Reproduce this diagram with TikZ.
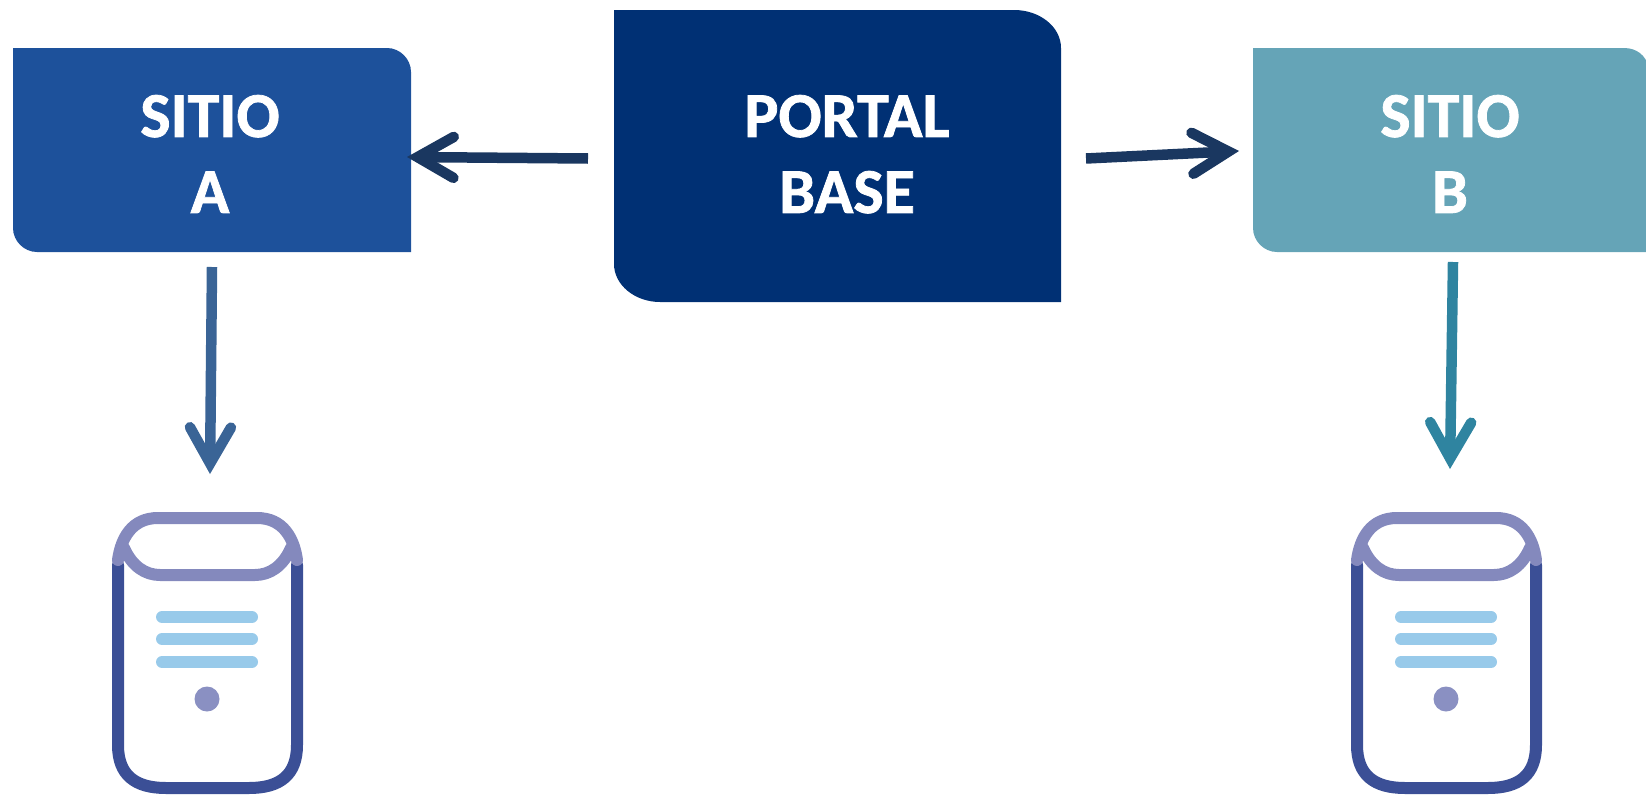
\documentclass[tikz,border=0pt]{standalone}
\usepackage{fontspec}
\setmainfont{Carlito}[BoldFeatures={FakeBold=1.2}]
\usetikzlibrary{arrows.meta}
\definecolor{sitioA}{HTML}{1D519B}
\definecolor{portalC}{HTML}{003074}
\definecolor{sitioB}{HTML}{65A4B7}
\definecolor{arrowDark}{HTML}{1A3760}
\definecolor{arrowA}{HTML}{3A6496}
\definecolor{arrowB}{HTML}{2F84A0}
\definecolor{srvBody}{HTML}{3B4F96}
\definecolor{srvTop}{HTML}{8489BD}
\definecolor{srvLine}{HTML}{98CAEA}
\definecolor{srvDot}{HTML}{8A90C2}
\tikzset{
  x=1pt,y=-1pt,
  boxlabel/.style={text=white,font=\fontsize{64}{76}\selectfont\bfseries,align=center,inner sep=0pt,text depth=0pt},
  conn/.style={line width=10.5pt,-{Straight Barb[length=36pt,width=41pt,line width=10.5pt,line cap=round,line join=miter]}},
  srvbodyline/.style={draw=srvBody,line width=12pt,line cap=round,line join=round},
  srvtopline/.style={draw=srvTop,line width=12pt,line cap=round,line join=round},
  srvtext/.style={draw=srvLine,line width=12pt,line cap=round},
  server/.pic={
    \draw[srvbodyline] (118,565) -- (118,745) .. controls (118,775) and (135,788) .. (166,788)
      -- (249,788) .. controls (280,788) and (297,775) .. (297,745) -- (297,565);
    \draw[srvtopline] (118,560) .. controls (121,538) and (132,518) .. (158,518) -- (257,518)
      .. controls (283,518) and (294,538) .. (297,560);
    \draw[srvtopline] (124,548) .. controls (132,566) and (145,575) .. (160,575) -- (255,575)
      .. controls (270,575) and (283,566) .. (291,548);
    \draw[srvtext] (162,617) -- (252,617);
    \draw[srvtext] (162,639) -- (252,639);
    \draw[srvtext] (162,662) -- (252,662);
    \fill[srvDot] (207,699) circle (12.5);
  }
}
\begin{document}
\begin{tikzpicture}
\useasboundingbox (0,0) rectangle (1646,795);
% boxes
\fill[sitioA] (13,48) -- (387,48) .. controls (400,48) and (411,59) .. (411,72) -- (411,252) -- (37,252)
  .. controls (24,252) and (13,241) .. (13,228) -- cycle;
\fill[portalC] (614,10) -- (1014,10) .. controls (1040,10) and (1061,27) .. (1061,48) -- (1061,302) -- (660,302)
  .. controls (635,302) and (614,285) .. (614,264) -- cycle;
\fill[sitioB] (1253,48) -- (1624,48) .. controls (1637,48) and (1646,56) .. (1648,66) -- (1648,252) -- (1277,252)
  .. controls (1264,252) and (1253,241) .. (1253,228) -- cycle;
\node[boxlabel] (sitea) at (210,154) {SITIO\\A};
\node[boxlabel] (portal) at (847,154) {PORTAL\\BASE};
\node[boxlabel] (siteb) at (1450,154) {SITIO\\B};
% servers
\pic (srva) at (0,0) {server};
\pic (srvb) at (1239,0) {server};
% connector ends
\coordinate (pl) at (588,158.5);
\coordinate (al) at (407,157);
\coordinate (pr) at (1086,158.5);
\coordinate (br) at (1239,151);
\coordinate (as) at (212,267);
\coordinate (ae) at (210,474);
\coordinate (bs) at (1453,262);
\coordinate (be) at (1450,469);
\draw[conn,draw=arrowDark] (pl) -- (al);
\draw[conn,draw=arrowDark] (pr) -- (br);
\draw[conn,draw=arrowA] (as) -- (ae);
\draw[conn,draw=arrowB] (bs) -- (be);
\end{tikzpicture}
\end{document}
